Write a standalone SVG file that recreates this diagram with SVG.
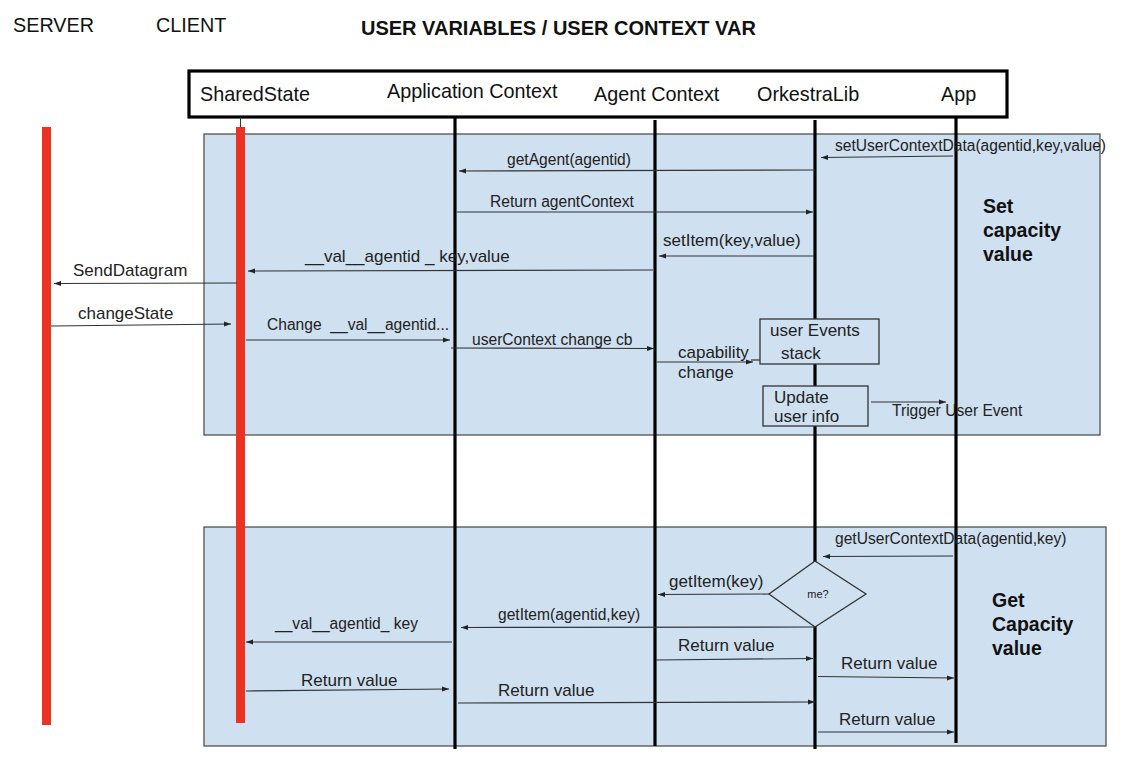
<svg xmlns="http://www.w3.org/2000/svg" width="1134" height="782" viewBox="0 0 1134 782">
<defs>
<marker id="ah" markerUnits="userSpaceOnUse" markerWidth="8" markerHeight="6" refX="7" refY="3" orient="auto">
<path d="M0,0.5 L7,3 L0,5.5 z" fill="#222"/>
</marker>
<style>
text{font-family:"Liberation Sans",Arial,sans-serif;fill:#222}
.t{font-size:19.8px;fill:#111}
.b{font-size:19.5px;font-weight:bold;fill:#111}
.l{font-size:15.6px}
.m{font-size:17px}
.panel{fill:#cfe0f0;stroke:#444;stroke-width:1.2}
.life{stroke:#000;stroke-width:3.2;fill:none}
.red{stroke:#ea3323;stroke-width:9;fill:none}
.ar{stroke:#333;stroke-width:1.2;fill:none;marker-end:url(#ah)}
.ln{stroke:#333;stroke-width:1.2;fill:none}
.box{fill:#cfe0f0;stroke:#333;stroke-width:1.3}
</style>
</defs>
<rect width="1134" height="782" fill="#fff"/>
<g id="titles">
<text class="t" x="13" y="32">SERVER</text>
<text class="t" x="156" y="32">CLIENT</text>
<text x="361" y="35" style="font-size:20px;font-weight:bold;fill:#111">USER VARIABLES / USER CONTEXT VAR</text>
</g>
<g id="panel-set">
<rect class="panel" x="204" y="134" width="896" height="301"/>
<text class="b" x="983" y="213">Set</text>
<text class="b" x="983" y="237">capacity</text>
<text class="b" x="983" y="261">value</text>
</g>
<g id="panel-get">
<rect class="panel" x="204" y="527" width="902" height="219"/>
<text class="b" x="992" y="607">Get</text>
<text class="b" x="992" y="631">Capacity</text>
<text class="b" x="992" y="655">value</text>
</g>
<g id="header">
<rect x="189" y="71" width="818" height="46" fill="#fff" stroke="#000" stroke-width="3.2"/>
<text class="t" x="200" y="101">SharedState</text>
<text class="t" x="387" y="98">Application Context</text>
<text class="t" x="594" y="101">Agent Context</text>
<text class="t" x="757" y="101">OrkestraLib</text>
<text class="t" x="941" y="101">App</text>
</g>
<g id="lifelines">
<line class="red" x1="46.5" y1="127" x2="46.5" y2="725"/>
<line x1="240.5" y1="117" x2="240.5" y2="127" stroke="#333" stroke-width="1"/>
<line class="red" x1="240.5" y1="127" x2="240.5" y2="723"/>
<line class="life" x1="455" y1="117" x2="455" y2="749"/>
<line class="life" x1="655" y1="120" x2="655" y2="746"/>
<line class="life" x1="815" y1="120" x2="815" y2="749"/>
<line class="life" x1="956" y1="117" x2="956" y2="743"/>
</g>
<g id="node-user-events">
<rect class="box" x="760" y="319" width="119" height="45"/>
<text class="m" x="770" y="336">user Events</text>
<text class="m" x="781" y="359">stack</text>
</g>
<g id="node-update-user-info">
<rect class="box" x="763" y="386" width="105" height="40"/>
<text class="m" x="774" y="403">Update</text>
<text class="m" x="774" y="422">user info</text>
</g>
<g id="node-me">
<polygon points="815,561 866,594 815,627 769,594" fill="#cfe0f0" stroke="#333" stroke-width="1.3"/>
<text x="818" y="598" text-anchor="middle" style="font-size:11px">me?</text>
</g>
<g id="connectors">
<path class="ar" d="M953,156 L821,157.5"/>
<path class="ar" d="M815,170 L459,171"/>
<path class="ar" d="M457,212 L813,212"/>
<path class="ar" d="M814,256 L659,256"/>
<path class="ar" d="M653,270 L248,271"/>
<path class="ar" d="M237,283 L54,283.5"/>
<path class="ar" d="M51,326 L231,324"/>
<path class="ar" d="M246,340 L450,340"/>
<path class="ar" d="M451,348 L654,348.5"/>
<path class="ar" d="M657,362 L753,362"/>
<path class="ln" d="M751,360 L760,360"/>
<path class="ar" d="M871,402 L946,402"/>
<path class="ar" d="M953,556 L823,556.5"/>
<path class="ar" d="M769,594 L658,594.5"/>
<path class="ar" d="M815,627 L461,627.5"/>
<path class="ar" d="M452,642 L246,642"/>
<path class="ar" d="M246,691 L449,689"/>
<path class="ar" d="M656,660 L813,658.5"/>
<path class="ar" d="M818,676.5 L954,678"/>
<path class="ar" d="M458,703 L815,702"/>
<path class="ar" d="M818,732 L954,732"/>
</g>
<g id="labels">
<text class="l" x="835" y="151">setUserContextData(agentid,key,value)</text>
<text class="l" x="507" y="165">getAgent(agentid)</text>
<text class="l" x="490" y="207">Return agentContext</text>
<text class="m" x="663" y="246">setItem(key,value)</text>
<text class="m" x="305" y="262">__val__agentid _ key,value</text>
<text class="m" x="73" y="276">SendDatagram</text>
<text class="m" x="78" y="319">changeState</text>
<text class="l" x="267" y="330">Change &#160;__val__agentid...</text>
<text class="l" x="472" y="345">userContext change cb</text>
<text class="m" x="678" y="358">capability</text>
<text class="m" x="678" y="378">change</text>
<text class="l" x="892" y="416">Trigger User Event</text>
<text class="l" x="835" y="544">getUserContextData(agentid,key)</text>
<text class="m" x="669" y="587">getItem(key)</text>
<text class="l" x="498" y="620">getItem(agentid,key)</text>
<text class="l" x="275" y="629">__val__agentid_ key</text>
<text class="m" x="301" y="686">Return value</text>
<text class="m" x="498" y="696">Return value</text>
<text class="m" x="678" y="651">Return value</text>
<text class="m" x="841" y="669">Return value</text>
<text class="m" x="839" y="725">Return value</text>
</g>
</svg>
